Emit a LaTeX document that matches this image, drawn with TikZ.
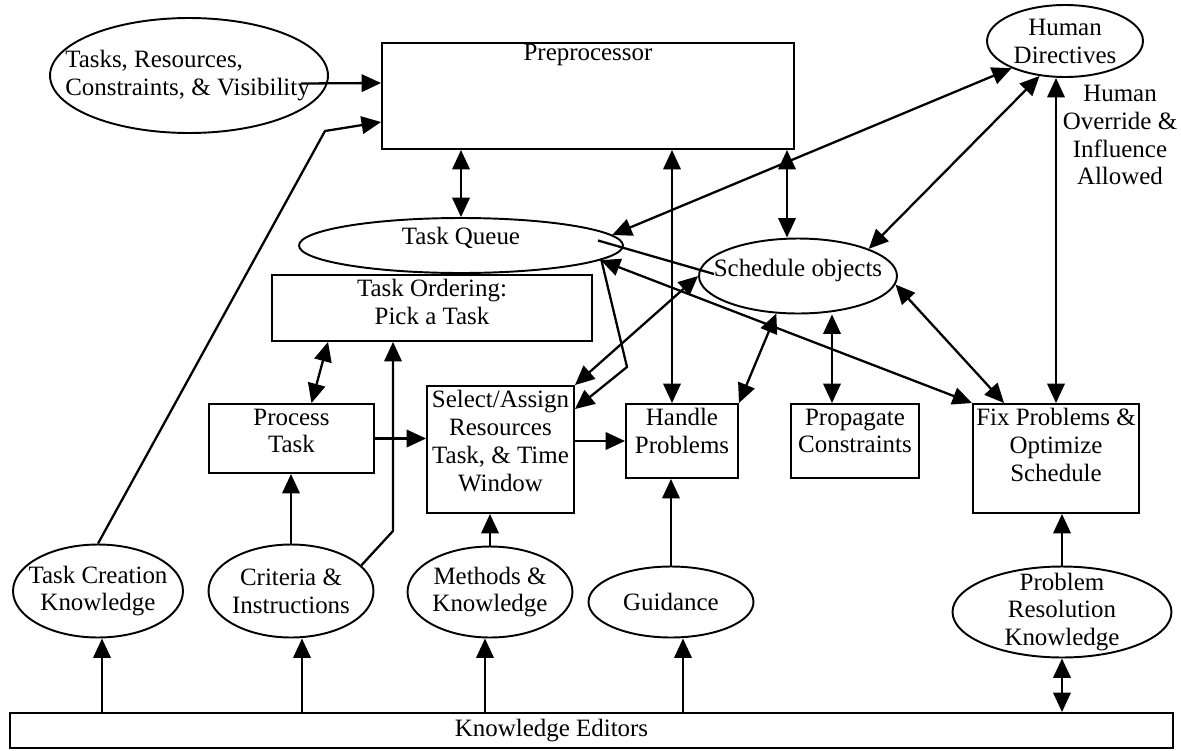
\documentclass[tikz,border=0pt]{standalone}
\usepackage{fontspec}
\setmainfont{Liberation Serif}
\usetikzlibrary{arrows.meta,shapes.geometric}

\begin{document}
\begin{tikzpicture}[
    x=0.02cm, y=-0.02cm,
    lbl/.style={font=\fontsize{14.2}{15.9}\selectfont, align=center},
    midlbl/.style={lbl, anchor=center},
    toplbl/.style={lbl, anchor=north, inner sep=3pt},
    box/.style={draw, line width=1.1pt, inner sep=0pt},
    oval/.style={draw, ellipse, line width=1.1pt, inner sep=0pt},
    link/.style={line width=1.3pt},
    arrow/.style={link, -{Triangle[length=0.39cm,width=0.35cm]}},
    darrow/.style={link, {Triangle[length=0.39cm,width=0.35cm]}-{Triangle[length=0.39cm,width=0.35cm]}}
]
    \useasboundingbox (0,0) rectangle (1181,751);

    % upper part
    \node[oval, minimum width=5.56cm, minimum height=2.3cm,
          label={[lbl, align=left, anchor=west, xshift=0.2cm]west:{Tasks, Resources,\\Constraints, \& Visibility}}] (tasks) at (189,75.5) {};
    \node[box, minimum width=8.24cm, minimum height=2.12cm,
          label={[toplbl, inner sep=1pt]north:Preprocessor}] (pre) at (588,96) {};
    \node[oval, minimum width=3.12cm, minimum height=1.44cm,
          label={[midlbl]center:{Human\\Directives}}] (hum) at (1065,41) {};
    \node[lbl] (override) at (1120,135) {Human\\Override \&\\Influence\\Allowed};
    \node[oval, minimum width=6.48cm, minimum height=1.1cm,
          label={[midlbl, yshift=0.16cm]center:Task Queue}] (tq) at (461,245.5) {};
    \node[oval, minimum width=3.96cm, minimum height=1.5cm,
          label={[midlbl, yshift=0.12cm]center:Schedule objects}] (sch) at (798,276) {};
    \node[box, minimum width=6.4cm, minimum height=1.32cm,
          label={[toplbl]north:{Task Ordering:\\Pick a Task}}] (tord) at (432,308) {};

    % processing boxes
    \node[box, minimum width=3.3cm, minimum height=1.38cm,
          label={[toplbl]north:{Process\\Task}}] (proc) at (291.5,438.5) {};
    \node[box, minimum width=2.94cm, minimum height=2.54cm,
          label={[toplbl]north:{Select/Assign\\Resources\\Task, \& Time\\Window}}] (sel) at (500.5,449.5) {};
    \node[box, minimum width=2.24cm, minimum height=1.48cm,
          label={[toplbl]north:{Handle\\Problems}}] (hand) at (682,441) {};
    \node[box, minimum width=2.56cm, minimum height=1.48cm,
          label={[toplbl]north:{Propagate\\Constraints}}] (prop) at (855,441) {};
    \node[box, minimum width=3.32cm, minimum height=2.18cm,
          label={[toplbl]north:{Fix Problems \&\\Optimize\\Schedule}}] (fix) at (1056,458.5) {};

    % knowledge
    \node[oval, minimum width=3.4cm, minimum height=1.86cm,
          label={[midlbl]center:{Task Creation\\Knowledge}}] (tck) at (98,591) {};
    \node[oval, minimum width=3.3cm, minimum height=1.86cm,
          label={[midlbl]center:{Criteria \&\\Instructions}}] (cri) at (291,591) {};
    \node[oval, minimum width=3.3cm, minimum height=1.82cm,
          label={[midlbl]center:{Methods \&\\Knowledge}}] (met) at (490,592) {};
    \node[oval, minimum width=3.3cm, minimum height=1.42cm,
          label={[midlbl]center:Guidance}] (gui) at (671,602) {};
    \node[oval, minimum width=4.38cm, minimum height=1.82cm,
          label={[midlbl]center:{Problem\\Resolution\\Knowledge}}] (prk) at (1062,612) {};
    \node[box, minimum width=23.26cm, minimum height=0.7cm,
          label={[midlbl, xshift=-0.8cm]center:Knowledge Editors}] (ked) at (591.5,730.5) {};

    % into the preprocessor
    \draw[arrow] ([shift={(-28,8)}]tasks.east) -- ([shift={(0,-13)}]pre.west);
    \draw[arrow] (tck.north) -- (325,131) -- ([shift={(0,26)}]pre.west);

    % preprocessor links
    \draw[darrow] (pre.south -| tq.north) -- (tq.north);
    \draw[darrow] ([xshift=-0.2cm]hand.north) -- ([xshift=-0.2cm]hand.north |- pre.south);
    \draw[darrow] ([xshift=-0.22cm]sch.north) -- ([xshift=-0.22cm]sch.north |- pre.south);

    % human directives
    \draw[darrow] (hum.207) -- (tq.4);
    \draw[darrow] (hum.234) -- (sch.21);
    \draw[darrow] (fix.north) -- (fix.north |- hum.south);

    % task queue
    \draw[link] ([shift={(137,-5)}]tq.center) -- ([shift={(16,-2)}]sch.west);
    \draw[arrow] ([shift={(140,13)}]tq.center) -- (627,367) -- ([shift={(0,24)}]sel.north east);
    \draw[darrow] (tq.-6) -- (fix.north west);

    % schedule objects
    \draw[darrow] (sch.west) -- (sel.north east);
    \draw[darrow] (sch.240) -- (hand.north east);
    \draw[darrow] ([xshift=-0.46cm]prop.north) -- ([xshift=-0.46cm]prop.north |- sch.south);
    \draw[darrow] (sch.-5) -- ([xshift=0.64cm]fix.north west);

    % task flow
    \draw[darrow] ([xshift=-2.08cm]tord.south) -- ([xshift=0.4cm]proc.north);
    \draw[arrow] (proc.east) -- (proc.east -| sel.west);
    \draw[arrow] (sel.east |- hand.west) -- (hand.west);

    % knowledge into the boxes
    \draw[arrow] (cri.north) -- (cri.north |- proc.south);
    \draw[arrow] (cri.20) -- (393,531) -- ([xshift=-0.78cm]tord.south);
    \draw[arrow] (met.north) -- (met.north |- sel.south);
    \draw[arrow] (gui.north) -- (gui.north |- hand.south);
    \draw[arrow] (prk.north) -- (prk.north |- fix.south);

    % knowledge editors
    \draw[arrow] ([xshift=0.08cm]tck.south |- ked.north) -- ([xshift=0.08cm]tck.south);
    \draw[arrow] ([xshift=0.22cm]cri.south |- ked.north) -- ([xshift=0.22cm]cri.south);
    \draw[arrow] ([xshift=-0.1cm]met.south |- ked.north) -- ([xshift=-0.1cm]met.south);
    \draw[arrow] ([xshift=0.24cm]gui.south |- ked.north) -- ([xshift=0.24cm]gui.south);
    \draw[darrow] (prk.south) -- (prk.south |- ked.north);
\end{tikzpicture}
\end{document}
